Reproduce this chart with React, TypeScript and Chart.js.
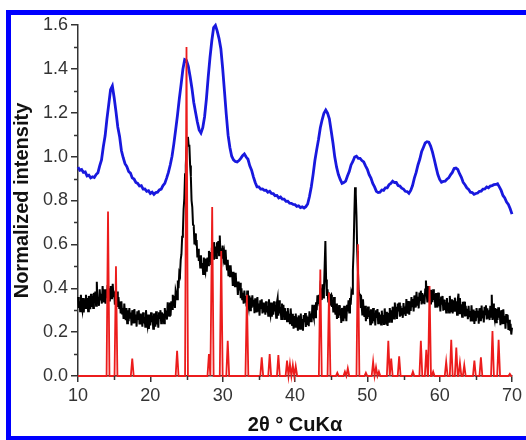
import React, { useEffect, useRef } from "react";
import { Chart, registerables } from "chart.js";

Chart.register(...registerables);

// ---------- data ----------
const xMin = 10;
const xMax = 70;
const yMin = 0;
const yMax = 1.6;
const xMajorStep = 10;
const yMajorStep = 0.2;
const xMinorTicks = [15, 25, 35, 45, 55, 65];
const yMinorTicks = [0.1, 0.3, 0.5, 0.7, 0.9, 1.1, 1.3, 1.5];

// blue pattern, sampled every 0.25 deg from 10
const blueStart = 10;
const blueStep = 0.25;
const blueValues = [
  0.952, 0.938, 0.941, 0.928, 0.930, 0.912, 0.915, 0.903, 0.908, 0.905, 0.918, 0.926,
  0.958, 0.985, 1.045, 1.095, 1.172, 1.238, 1.305, 1.322, 1.268, 1.205, 1.135, 1.092,
  1.028, 0.995, 0.968, 0.955, 0.932, 0.925, 0.903, 0.898, 0.882, 0.878, 0.866, 0.868,
  0.852, 0.853, 0.842, 0.845, 0.832, 0.838, 0.828, 0.836, 0.838, 0.848, 0.852, 0.868,
  0.878, 0.902, 0.928, 0.962, 1.002, 1.058, 1.122, 1.188, 1.262, 1.328, 1.398, 1.442,
  1.438, 1.412, 1.365, 1.312, 1.248, 1.202, 1.158, 1.122, 1.108, 1.132, 1.182, 1.262,
  1.362, 1.452, 1.528, 1.588, 1.598, 1.572, 1.538, 1.492, 1.402, 1.298, 1.192, 1.098,
  1.042, 1.002, 0.985, 0.978, 0.976, 0.982, 0.992, 1.004, 1.012, 0.998, 0.988, 0.958,
  0.938, 0.908, 0.882, 0.862, 0.862, 0.852, 0.853, 0.846, 0.847, 0.838, 0.842, 0.832,
  0.831, 0.822, 0.823, 0.812, 0.816, 0.806, 0.806, 0.796, 0.797, 0.788, 0.787, 0.782,
  0.781, 0.773, 0.776, 0.768, 0.771, 0.766, 0.772, 0.784, 0.818, 0.862, 0.918, 0.982,
  1.032, 1.078, 1.132, 1.168, 1.198, 1.212, 1.198, 1.172, 1.118, 1.062, 0.998, 0.952,
  0.918, 0.896, 0.878, 0.882, 0.888, 0.912, 0.932, 0.962, 0.978, 0.998, 1.002, 0.992,
  0.992, 0.982, 0.976, 0.958, 0.942, 0.918, 0.902, 0.878, 0.862, 0.842, 0.836, 0.838,
  0.848, 0.846, 0.858, 0.858, 0.872, 0.878, 0.888, 0.882, 0.882, 0.868, 0.866, 0.856,
  0.852, 0.842, 0.841, 0.833, 0.846, 0.868, 0.902, 0.928, 0.962, 0.988, 1.022, 1.042,
  1.062, 1.068, 1.066, 1.048, 1.022, 0.988, 0.952, 0.918, 0.896, 0.883, 0.887, 0.888,
  0.897, 0.903, 0.917, 0.928, 0.946, 0.948, 0.942, 0.922, 0.906, 0.883, 0.872, 0.858,
  0.851, 0.838, 0.836, 0.828, 0.832, 0.834, 0.842, 0.843, 0.852, 0.853, 0.862, 0.858,
  0.866, 0.868, 0.872, 0.873, 0.876, 0.862, 0.846, 0.823, 0.812, 0.793, 0.782, 0.762,
  0.738,
];

// black pattern, sampled every 0.1 deg from 10 (one row per degree)
const blackStart = 10;
const blackStep = 0.1;
const blackValues = [
  0.36, 0.31, 0.34, 0.295, 0.37, 0.32, 0.30, 0.355, 0.29, 0.35,
  0.31, 0.37, 0.325, 0.355, 0.295, 0.365, 0.34, 0.305, 0.375, 0.315,
  0.365, 0.31, 0.38, 0.345, 0.385, 0.32, 0.43, 0.33, 0.36, 0.32,
  0.395, 0.345, 0.375, 0.33, 0.41, 0.36, 0.34, 0.395, 0.33, 0.395,
  0.355, 0.415, 0.37, 0.40, 0.34, 0.41, 0.385, 0.35, 0.42, 0.36,
  0.385, 0.325, 0.39, 0.35, 0.385, 0.315, 0.36, 0.31, 0.34, 0.285,
  0.34, 0.285, 0.31, 0.26, 0.33, 0.28, 0.255, 0.31, 0.24, 0.30,
  0.25, 0.31, 0.265, 0.29, 0.23, 0.30, 0.275, 0.24, 0.305, 0.245,
  0.28, 0.225, 0.295, 0.26, 0.30, 0.235, 0.285, 0.235, 0.27, 0.225,
  0.29, 0.24, 0.27, 0.225, 0.30, 0.25, 0.23, 0.28, 0.215, 0.275,
  0.23, 0.29, 0.245, 0.275, 0.215, 0.285, 0.26, 0.225, 0.295, 0.235,
  0.275, 0.22, 0.29, 0.26, 0.30, 0.24, 0.29, 0.245, 0.285, 0.24,
  0.31, 0.264, 0.298, 0.257, 0.336, 0.29, 0.275, 0.335, 0.275, 0.34,
  0.305, 0.37, 0.33, 0.365, 0.31, 0.39, 0.375, 0.35, 0.435, 0.40,
  0.47, 0.46, 0.53, 0.555, 0.635, 0.655, 0.76, 0.81, 0.92, 0.96,
  1.04, 1.06, 1.09, 1.05, 1.05, 0.96, 0.91, 0.80, 0.77, 0.69,
  0.685, 0.60, 0.65, 0.595, 0.62, 0.54, 0.58, 0.525, 0.55, 0.495,
  0.55, 0.49, 0.515, 0.465, 0.54, 0.49, 0.475, 0.535, 0.475, 0.54,
  0.505, 0.57, 0.53, 0.565, 0.51, 0.585, 0.565, 0.535, 0.61, 0.555,
  0.59, 0.538, 0.61, 0.575, 0.615, 0.55, 0.64, 0.55, 0.582, 0.535,
  0.595, 0.538, 0.56, 0.507, 0.575, 0.515, 0.485, 0.53, 0.455, 0.505,
  0.45, 0.505, 0.45, 0.475, 0.41, 0.475, 0.445, 0.405, 0.47, 0.405,
  0.43, 0.37, 0.43, 0.39, 0.425, 0.355, 0.40, 0.35, 0.38, 0.33,
  0.39, 0.338, 0.365, 0.317, 0.39, 0.338, 0.315, 0.367, 0.30, 0.358,
  0.31, 0.368, 0.32, 0.348, 0.286, 0.354, 0.327, 0.29, 0.36, 0.298,
  0.331, 0.275, 0.345, 0.31, 0.35, 0.285, 0.335, 0.29, 0.325, 0.28,
  0.34, 0.29, 0.32, 0.275, 0.35, 0.30, 0.28, 0.335, 0.27, 0.33,
  0.28, 0.34, 0.295, 0.325, 0.265, 0.335, 0.355, 0.275, 0.345, 0.285,
  0.315, 0.26, 0.33, 0.29, 0.325, 0.26, 0.31, 0.265, 0.295, 0.25,
  0.31, 0.257, 0.284, 0.236, 0.308, 0.255, 0.232, 0.284, 0.216, 0.273,
  0.225, 0.285, 0.238, 0.268, 0.206, 0.276, 0.25, 0.215, 0.285, 0.225,
  0.26, 0.206, 0.278, 0.245, 0.287, 0.224, 0.276, 0.233, 0.27, 0.227,
  0.295, 0.25, 0.285, 0.245, 0.325, 0.28, 0.265, 0.325, 0.268, 0.336,
  0.30, 0.368, 0.332, 0.37, 0.318, 0.396, 0.377, 0.346, 0.418, 0.358,
  0.39, 0.50, 0.615, 0.44, 0.365, 0.395, 0.34, 0.38, 0.32, 0.365,
  0.37, 0.315, 0.34, 0.29, 0.36, 0.305, 0.28, 0.33, 0.26, 0.315,
  0.265, 0.323, 0.276, 0.304, 0.242, 0.31, 0.285, 0.25, 0.32, 0.262,
  0.30, 0.25, 0.325, 0.295, 0.345, 0.29, 0.355, 0.325, 0.385, 0.375,
  0.48, 0.57, 0.73, 0.86, 0.83, 0.73, 0.57, 0.48, 0.39, 0.37,
  0.37, 0.31, 0.33, 0.28, 0.35, 0.295, 0.27, 0.32, 0.25, 0.308,
  0.26, 0.317, 0.27, 0.298, 0.236, 0.304, 0.277, 0.24, 0.31, 0.25,
  0.285, 0.23, 0.30, 0.265, 0.305, 0.24, 0.29, 0.245, 0.28, 0.235,
  0.298, 0.248, 0.278, 0.233, 0.308, 0.258, 0.238, 0.293, 0.228, 0.288,
  0.247, 0.31, 0.268, 0.30, 0.243, 0.316, 0.294, 0.262, 0.335, 0.278,
  0.315, 0.26, 0.33, 0.295, 0.335, 0.27, 0.32, 0.275, 0.31, 0.265,
  0.333, 0.285, 0.317, 0.274, 0.351, 0.303, 0.285, 0.342, 0.279, 0.34,
  0.297, 0.36, 0.318, 0.351, 0.294, 0.367, 0.345, 0.312, 0.384, 0.325,
  0.361, 0.308, 0.38, 0.347, 0.389, 0.326, 0.378, 0.335, 0.371, 0.327,
  0.394, 0.435, 0.378, 0.335, 0.41, 0.36, 0.34, 0.393, 0.326, 0.384,
  0.337, 0.395, 0.347, 0.374, 0.311, 0.378, 0.35, 0.312, 0.38, 0.318,
  0.351, 0.294, 0.362, 0.325, 0.365, 0.298, 0.348, 0.301, 0.336, 0.29,
  0.355, 0.305, 0.335, 0.29, 0.365, 0.315, 0.295, 0.35, 0.285, 0.345,
  0.298, 0.357, 0.311, 0.34, 0.279, 0.348, 0.375, 0.286, 0.355, 0.294,
  0.327, 0.27, 0.338, 0.301, 0.339, 0.272, 0.32, 0.273, 0.306, 0.259,
  0.32, 0.268, 0.296, 0.249, 0.322, 0.27, 0.249, 0.303, 0.237, 0.296,
  0.25, 0.31, 0.266, 0.297, 0.238, 0.309, 0.285, 0.25, 0.321, 0.262,
  0.298, 0.244, 0.315, 0.281, 0.322, 0.258, 0.309, 0.265, 0.30, 0.255,
  0.32, 0.27, 0.37, 0.255, 0.33, 0.28, 0.26, 0.31, 0.245, 0.305,
  0.255, 0.313, 0.266, 0.294, 0.232, 0.30, 0.273, 0.236, 0.304, 0.242,
  0.275, 0.216, 0.282, 0.243, 0.279, 0.21, 0.256, 0.207, 0.238, 0.189,
  0.22,
];

// red reference pattern: peak positions (2θ) and heights
const redPositions = [
  14.15, 15.25, 17.5, 23.7, 25.0, 28.1, 28.55, 29.8, 30.7, 33.35,
  35.4, 36.5, 37.7, 38.9, 39.3, 39.7, 40.1, 43.5, 44.7, 45.85,
  46.9, 47.3, 48.7, 49.8, 50.8, 51.2, 51.6, 52.9, 53.3, 54.4,
  56.3, 57.4, 58.15, 58.6, 59.1, 60.9, 61.6, 62.3, 62.8, 63.4,
  64.8, 65.7, 67.3, 68.15, 69.7,
];
const redHeights = [
  0.75, 0.50, 0.08, 0.115, 1.50, 0.10, 0.77, 0.57, 0.16, 0.37,
  0.085, 0.10, 0.095, 0.07, 0.055, 0.05, 0.045, 0.485, 0.38, 0.015,
  0.02, 0.035, 0.60, 0.015, 0.065, 0.04, 0.02, 0.16, 0.08, 0.09,
  0.02, 0.16, 0.12, 0.41, 0.02, 0.065, 0.165, 0.13, 0.06, 0.05,
  0.07, 0.085, 0.205, 0.165, 0.01,
];
const redHalfWidth = 0.2;

// ---------- styles ----------
const FONT = 'Arial, "Liberation Sans", Helvetica, sans-serif';
const AXIS_COLOR = "#333333";
const BLUE = "#1818de";
const RED = "#ec1c1c";
const BLACK = "#000000";

function sampled(start: number, step: number, vals: number[]) {
  return vals.map((v, i) => ({ x: +(start + i * step).toFixed(3), y: v }));
}

function sticks(pos: number[], h: number[]) {
  const pts: { x: number; y: number }[] = [{ x: xMin, y: 0 }];
  pos.forEach((p, i) => {
    pts.push({ x: p - redHalfWidth, y: 0 });
    pts.push({ x: p, y: h[i] });
    pts.push({ x: p + redHalfWidth, y: 0 });
  });
  pts.push({ x: xMax, y: 0 });
  return pts;
}

const minorTicksPlugin = {
  id: "minorTicks",
  afterDraw(chart: any) {
    const { ctx } = chart;
    const xs = chart.scales.x;
    const ys = chart.scales.y;
    ctx.save();
    ctx.strokeStyle = AXIS_COLOR;
    ctx.lineWidth = 1.5;
    ctx.beginPath();
    for (const v of yMinorTicks) {
      const py = Math.round(ys.getPixelForValue(v)) + 0.5;
      ctx.moveTo(ys.right - 4, py);
      ctx.lineTo(ys.right, py);
    }
    for (const v of xMinorTicks) {
      const px = Math.round(xs.getPixelForValue(v)) + 0.5;
      ctx.moveTo(px, xs.top);
      ctx.lineTo(px, xs.top + 4);
    }
    ctx.stroke();
    ctx.restore();
  },
};

export default function App() {
  const ref = useRef<HTMLCanvasElement | null>(null);

  useEffect(() => {
    if (!ref.current) return;
    const chart = new Chart(ref.current, {
      type: "line",
      data: {
        datasets: [
          {
            label: "reference",
            data: sticks(redPositions, redHeights),
            borderColor: RED,
            borderWidth: 1.8,
            pointRadius: 0,
            tension: 0,
            clip: false,
          },
          {
            label: "blue",
            data: sampled(blueStart, blueStep, blueValues),
            borderColor: BLUE,
            borderWidth: 2.8,
            pointRadius: 0,
            tension: 0,
            clip: false,
          },
          {
            label: "black",
            data: sampled(blackStart, blackStep, blackValues),
            borderColor: BLACK,
            borderWidth: 2,
            pointRadius: 0,
            tension: 0,
            clip: false,
          },
        ],
      } as any,
      options: {
        animation: false,
        responsive: false,
        maintainAspectRatio: false,
        events: [],
        layout: { padding: { left: 0, right: 14, top: 25, bottom: 0 } },
        plugins: {
          legend: { display: false },
          tooltip: { enabled: false },
        },
        scales: {
          x: {
            type: "linear",
            min: xMin,
            max: xMax,
            ticks: {
              stepSize: xMajorStep,
              color: AXIS_COLOR,
              font: { family: FONT, size: 18 },
              padding: 3,
              maxRotation: 0,
              autoSkip: false,
            },
            grid: {
              display: true,
              drawOnChartArea: false,
              drawTicks: true,
              tickLength: 6,
              color: AXIS_COLOR,
              lineWidth: 1.5,
            },
            border: { display: true, color: AXIS_COLOR, width: 1.5 },
            title: {
              display: true,
              text: "2θ ° CuKα",
              color: "#111111",
              font: { family: FONT, size: 20, weight: "bold" },
              padding: { top: 0, bottom: 3 },
            },
            afterFit: (s: any) => {
              s.height = 64;
            },
          },
          y: {
            type: "linear",
            min: yMin,
            max: yMax,
            ticks: {
              stepSize: yMajorStep,
              color: AXIS_COLOR,
              font: { family: FONT, size: 18 },
              padding: 3,
              callback: (v: any) => Number(v).toFixed(1),
            },
            grid: {
              display: true,
              drawOnChartArea: false,
              drawTicks: true,
              tickLength: 7,
              color: AXIS_COLOR,
              lineWidth: 1.5,
            },
            border: { display: true, color: AXIS_COLOR, width: 1.5 },
            title: {
              display: true,
              text: "Normalized intensity",
              color: "#111111",
              font: { family: FONT, size: 20, weight: "bold" },
              padding: { top: 10, bottom: 0 },
            },
            afterFit: (s: any) => {
              s.width = 78;
            },
          },
        },
      } as any,
      plugins: [minorTicksPlugin],
    });
    return () => chart.destroy();
  }, []);

  return (
    <div>
      <canvas
        ref={ref}
        width={526}
        height={440}
        style={{ position: "fixed", left: 0, top: 0, width: 526, height: 440, background: "#fff" }}
      />
      <div
        style={{
          position: "fixed",
          left: 6,
          top: 10,
          width: 540,
          height: 431,
          border: "5px solid #0000ff",
          boxSizing: "border-box",
          pointerEvents: "none",
        }}
      />
    </div>
  );
}
